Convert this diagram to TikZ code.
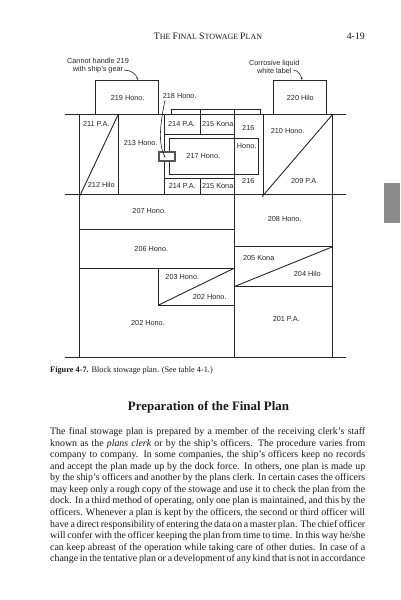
\documentclass[tikz,border=0pt]{standalone}
\usepackage{fontspec}
\setmainfont{Liberation Serif}
\setsansfont{Liberation Sans}
\usepackage{tikz}
\usetikzlibrary{arrows.meta}
\definecolor{planink}{HTML}{262626}
\definecolor{printink}{HTML}{1A1A1A}
\definecolor{tabgray}{HTML}{8C8C8C}
\definecolor{markgray}{HTML}{555555}
\tikzset{
  deck/.style={draw=planink, line width=1pt},
  cargo/.style={draw=planink, line width=0.9pt},
  lot/.style={font=\sffamily\fontsize{7.3}{8}\selectfont, text=planink, inner sep=0pt},
  callout/.style={lot, align=center},
  lead/.style={-{Stealth[length=2.5pt]}, line width=0.6pt, color=planink},
  headtext/.style={font=\fontsize{9.8}{11}\selectfont, text=printink, inner sep=0pt},
  bodytext/.style={font=\fontsize{9.9}{11.55}\selectfont, text=printink, inner sep=0pt, align=left, anchor=north west},
}
\newcommand{\fitline}[1]{\makebox[315pt][s]{#1}}
\newcommand{\headcap}[1]{{\fontsize{9.8}{11}\selectfont #1}}
\begin{document}
\begin{tikzpicture}[x=1pt,y=-1pt]
  \useasboundingbox (0,0) rectangle (400,600);
  \fill[white] (0,0) rectangle (400,600);
  % page head and thumb tab
  \node[headtext, font=\fontsize{8}{9}\selectfont] (pagehead) at (208,36.5) {\headcap{T}HE \headcap{F}INAL \headcap{S}TOWAGE \headcap{P}LAN};
  \node[headtext, anchor=east] (pagenum) at (365,36.5) {4-19};
  \fill[tabgray] (384,183) rectangle (400,223);
  % decks
  \draw[deck] (65,114.3) -- (346,114.3);
  \draw[deck] (65,194.3) -- (346,194.3);
  \draw[deck] (65,357.3) -- (346,357.3);
  % frames
  \draw[cargo] (79.5,114.3) -- (79.5,357.3);
  \draw[cargo] (118.3,114.3) -- (118.3,194.3);
  \draw[cargo] (164.7,114.3) -- (164.7,194.3);
  \draw[cargo] (234,109.7) -- (234,357.3);
  \draw[cargo] (263.3,114.3) -- (263.3,194.3);
  \draw[cargo] (332.7,114.3) -- (332.7,357.3);
  % top tier
  \draw[cargo] (95.3,114.3) |- (158.7,80.3) -- (158.7,114.3);
  \draw[cargo] (273.3,114.3) |- (326.7,80.3) -- (326.7,114.3);
  \draw[cargo] (171.3,114.3) |- (260.3,109.7) -- (260.3,114.3);
  \draw[cargo] (200.7,109.7) -- (200.7,134.3);
  \draw[cargo] (200.7,178.3) -- (200.7,194.3);
  \draw[cargo] (164.7,134.3) -- (234,134.3);
  \draw[cargo] (164.7,178.3) -- (234,178.3);
  \draw[cargo] (169.3,138.3) rectangle (258.3,174.3);
  \draw[cargo] (79.5,196.5) -- (118.3,114.3);
  \draw[cargo] (262.2,196.5) -- (332.7,114.3);
  % lower tier
  \draw[cargo] (79.5,229.3) -- (234,229.3);
  \draw[cargo] (79.5,268.3) -- (234,268.3);
  \draw[cargo] (158.7,268.3) -- (158.7,305) -- (234,305);
  \draw[cargo] (158.7,305) -- (234,268.3);
  \draw[cargo] (234,246.7) -- (332.7,246.7);
  \draw[cargo] (234,286.7) -- (332.7,286.7);
  \draw[cargo] (234,286.7) -- (332.7,246.7);
  % hatch marker and leaders
  \draw[draw=markgray, fill=white, line width=1.8pt] (158.6,152) rectangle (174.8,160.8);
  \coordinate (leadstart) at (165,100);
  \coordinate (leadend) at (165.3,157.7);
  \draw[lead] (leadstart) .. controls (160,125) and (158,143) .. (leadend);
  \coordinate (gearstart) at (124,70);
  \coordinate (gearend) at (138,80);
  \draw[lead] (gearstart) .. controls (131,70) and (136,74) .. (gearend);
  \coordinate (labelstart) at (293,70);
  \coordinate (labelend) at (302,80);
  \draw[lead] (labelstart) .. controls (298,70) and (301,75) .. (labelend);
  % lot labels
  \node[callout] (gearnote) at (98,65.5) {Cannot handle 219\\with ship's gear};
  \node[callout] (labelnote) at (274.3,67) {Corrosive liquid\\white label};
  \node[lot] (lot219) at (127.7,98.3) {219 Hono.};
  \node[lot] (lot218) at (179.7,95.7) {218 Hono.};
  \node[lot] (lot220) at (300.3,98.3) {220 Hilo};
  \node[lot] (lot211) at (96.3,123.7) {211 P.A.};
  \node[lot] (lot212) at (101.3,184.7) {212 Hilo};
  \node[lot] (lot213) at (140.7,143.3) {213 Hono.};
  \node[lot] (lot214a) at (181.7,124) {214 P.A.};
  \node[lot] (lot215a) at (217.7,124) {215 Kona};
  \node[lot] (lot216a) at (248.3,127.7) {216};
  \node[lot] (lot216b) at (246.7,145.7) {Hono.};
  \node[lot] (lot217) at (203.3,156) {217 Hono.};
  \node[lot] (lot214b) at (182.3,186) {214 P.A.};
  \node[lot] (lot215b) at (217.7,186) {215 Kona};
  \node[lot] (lot216c) at (248.3,181) {216};
  \node[lot] (lot210) at (287.7,130.7) {210 Hono.};
  \node[lot] (lot209) at (304.7,181.3) {209 P.A.};
  \node[lot] (lot207) at (149.3,210.7) {207 Hono.};
  \node[lot] (lot208) at (284.7,219.3) {208 Hono.};
  \node[lot] (lot206) at (151.3,249) {206 Hono.};
  \node[lot] (lot205) at (258.7,258.3) {205 Kona};
  \node[lot] (lot204) at (307.3,274) {204 Hilo};
  \node[lot] (lot203) at (182.3,277) {203 Hono.};
  \node[lot] (lot202a) at (209.7,297.3) {202 Hono.};
  \node[lot] (lot202b) at (148,322.7) {202 Hono.};
  \node[lot] (lot201) at (286.3,319.3) {201 P.A.};
  % caption, heading, text
  \node[headtext, anchor=west, font=\fontsize{8.3}{10}\selectfont] (figcap) at (50,371) {\textbf{Figure 4-7.} Block stowage plan. (See table 4-1.)};
  \node[headtext, font=\fontsize{12.9}{15}\selectfont\bfseries] (planhead) at (208.5,407.5) {Preparation of the Final Plan};
  \node[bodytext] (plantext) at (50,427.5) {%
    \fitline{The final stowage plan is prepared by a member of the receiving clerk's staff}\\
    \fitline{known as the \textit{plans clerk} or by the ship's officers. The procedure varies from}\\
    \fitline{company to company. In some companies, the ship's officers keep no records}\\
    \fitline{and accept the plan made up by the dock force. In others, one plan is made up}\\
    \fitline{by the ship's officers and another by the plans clerk. In certain cases the officers}\\
    \fitline{may keep only a rough copy of the stowage and use it to check the plan from the}\\
    \fitline{dock. In a third method of operating, only one plan is maintained, and this by the}\\
    \fitline{officers. Whenever a plan is kept by the officers, the second or third officer will}\\
    \fitline{have a direct responsibility of entering the data on a master plan. The chief officer}\\
    \fitline{will confer with the officer keeping the plan from time to time. In this way he/she}\\
    \fitline{can keep abreast of the operation while taking care of other duties. In case of a}\\
    \fitline{change in the tentative plan or a development of any kind that is not in accordance}};
\end{tikzpicture}
\end{document}
